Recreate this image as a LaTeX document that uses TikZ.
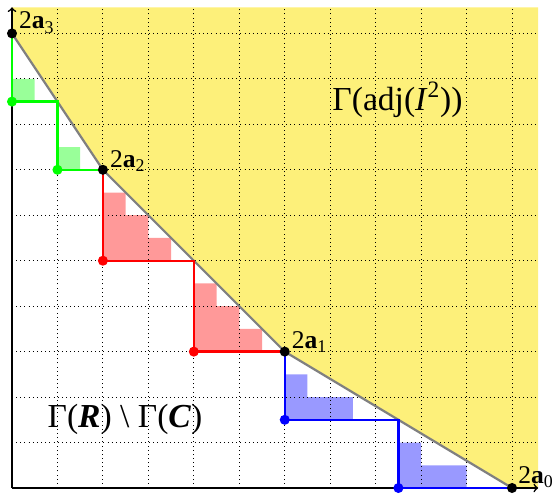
\documentclass[tikz,border=0pt]{standalone}
\usepackage{fontspec}
\setmainfont{Liberation Serif}
\usetikzlibrary{calc}
\definecolor{bgyellow}{RGB}{253,240,122}
\tikzset{
  vtx/.style={circle,fill=#1,inner sep=0pt,minimum size=6.3pt},
  ptlabel/.style={anchor=base west,inner sep=0pt,font=\fontsize{16}{18}\selectfont},
  bigtext/.style={anchor=base,inner sep=0pt,font=\fontsize{21}{25}\selectfont},
  stair/.style={line width=1.5pt,#1},
  newton/.style={line width=1.4pt,gray},
  axis/.style={line width=1pt,->},
  gridline/.style={dotted,line width=0.6pt,black}
}
\begin{document}
\begin{tikzpicture}[x=0.5cm,y=0.5cm]
\useasboundingbox (-0.528,-0.22) rectangle (23.89,21.47);
% key points
\coordinate (O) at (0,0);
\coordinate (A3) at (0,20);
\coordinate (A2) at (4,14);
\coordinate (A1) at (12,6);
\coordinate (A0) at (22,0);
\coordinate (G1) at (0,17);
\coordinate (G2) at (2,17);
\coordinate (G3) at (2,14);
\coordinate (R1) at (4,10);
\coordinate (R2) at (8,10);
\coordinate (R3) at (8,6);
\coordinate (B1) at (12,3);
\coordinate (B2) at (17,3);
\coordinate (B3) at (17,0);
\coordinate (XE) at (23.15,0);
\coordinate (YE) at (0,21.15);
\coordinate (TR) at (23.15,21.15);
% yellow region
\fill[bgyellow] (A3) -- (A2) -- (A1) -- (A0) -- (XE) -- (TR) -- (YE) -- cycle;
% shaded squares
\fill[green!40] (0,17) rectangle (1,18) (2,14) rectangle (3,15);
\fill[red!40] (4,10) rectangle (5,13) (5,10) rectangle (6,12) (6,10) rectangle (7,11)
  (8,6) rectangle (9,9) (9,6) rectangle (10,8) (10,6) rectangle (11,7);
\fill[blue!40] (12,3) rectangle (13,5) (13,3) rectangle (15,4)
  (17,0) rectangle (18,2) (18,0) rectangle (20,1);
% grid
\draw[gridline] (O) grid (TR);
% axes
\draw[axis] (O) -- (XE);
\draw[axis] (O) -- (YE);
% Newton polygon
\draw[newton] (A3) -- (A2) -- (A1) -- (A0);
% staircases
\draw[stair=green] (A3) -- (G1) -- (G2) -- (G3) -- (A2);
\draw[stair=red] (A2) -- (R1) -- (R2) -- (R3) -- (A1);
\draw[stair=blue] (A1) -- (B1) -- (B2) -- (B3) -- (A0);
% dots
\node[vtx=green] (g1) at (G1) {};
\node[vtx=green] (g3) at (G3) {};
\node[vtx=red] (r1) at (R1) {};
\node[vtx=red] (r3) at (R3) {};
\node[vtx=blue] (b1) at (B1) {};
\node[vtx=blue] (b3) at (B3) {};
\node[vtx=black] (a3) at (A3) {};
\node[vtx=black] (a2) at (A2) {};
\node[vtx=black] (a1) at (A1) {};
\node[vtx=black] (a0) at (A0) {};
% labels
\node[ptlabel] (l3) at ($(A3)+(0.3,0.2)$) {2\textbf{a}\textsubscript{3}};
\node[ptlabel] (l2) at ($(A2)+(0.3,0.12)$) {2\textbf{a}\textsubscript{2}};
\node[ptlabel] (l1) at ($(A1)+(0.3,0.13)$) {2\textbf{a}\textsubscript{1}};
\node[ptlabel] (l0) at ($(A0)+(0.26,0.22)$) {2\textbf{a}\textsubscript{0}};
\node[bigtext] (t1) at (16.96,16.63) {Γ(adj(\textit{I}\textsuperscript{2}))};
\node[bigtext] (t2) at (4.97,2.68) {Γ(\textbf{\textit{R}}) \textbackslash\ Γ(\textbf{\textit{C}})};
\end{tikzpicture}
\end{document}
